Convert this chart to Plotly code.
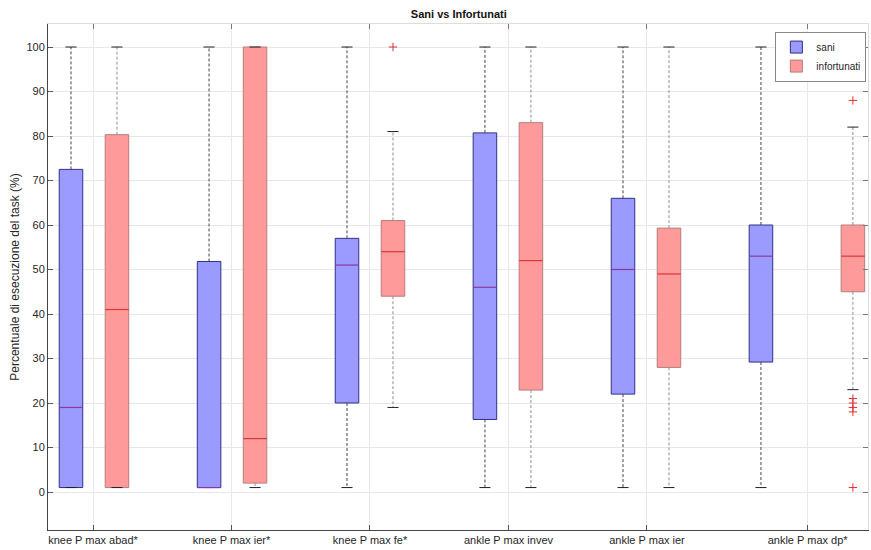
import plotly.graph_objects as go

# Categories and tick positions (group 6 sits slightly wider apart)
categories = ["knee P max abad*", "knee P max ier*", "knee P max fe*",
              "ankle P max invev", "ankle P max ier", "ankle P max dp*"]
tick_pos = [1.0, 2.0, 3.0, 4.0, 5.0, 6.16]
sani_pos = [0.841, 1.838, 2.834, 3.830, 4.827, 5.823]
inf_pos = [1.173, 2.170, 3.166, 4.162, 5.159, 6.487]

# Box statistics: sani
sani_min = [1, 1, 1, 1, 1, 1]
sani_q1 = [1, 1, 20, 16.3, 22, 29.2]
sani_med = [19, 1, 51, 46, 50, 53]
sani_q3 = [72.5, 51.8, 57, 80.7, 66, 60]
sani_max = [100, 100, 100, 100, 100, 100]

# Box statistics: infortunati
inf_min = [1, 1, 19, 1, 1, 23]
inf_q1 = [1, 2, 44, 22.9, 28, 45]
inf_med = [41, 12, 54, 52, 49, 53]
inf_q3 = [80.3, 100, 61, 83, 59.3, 60]
inf_max = [100, 100, 81, 100, 100, 82]
inf_out_group = [3, 6, 6, 6, 6, 6, 6]
inf_out_y = [100, 88, 21, 20, 19, 18, 1]

BOX_W = 0.17
CAP_HALF = 0.04


def segments(xs0, xs1, ys0, ys1):
    xx, yy = [], []
    for a, b, c, d in zip(xs0, xs1, ys0, ys1):
        xx += [a, b, None]
        yy += [c, d, None]
    return xx, yy


def add_series(fig, name, pos, mn, q1, med, q3, mx, fill, edge, med_col, wcol):
    # box body
    fig.add_trace(go.Bar(
        x=pos, base=q1, y=[b - a for a, b in zip(q1, q3)], width=BOX_W,
        marker=dict(color=fill, line=dict(color=edge, width=1)),
        name=name, showlegend=True))
    # whiskers (dashed)
    wx, wy = segments(pos + pos, pos + pos, q3 + q1, mx + mn)
    fig.add_trace(go.Scatter(x=wx, y=wy, mode="lines",
                             line=dict(color=wcol, width=1, dash="3px,2px"),
                             showlegend=False, hoverinfo="skip"))
    # whisker caps
    cx0 = [p - CAP_HALF for p in pos] * 2
    cx1 = [p + CAP_HALF for p in pos] * 2
    cx, cy = segments(cx0, cx1, mx + mn, mx + mn)
    fig.add_trace(go.Scatter(x=cx, y=cy, mode="lines",
                             line=dict(color="#222222", width=1),
                             showlegend=False, hoverinfo="skip"))
    # medians
    mxs, mys = segments([p - BOX_W / 2 for p in pos], [p + BOX_W / 2 for p in pos], med, med)
    fig.add_trace(go.Scatter(x=mxs, y=mys, mode="lines",
                             line=dict(color=med_col, width=1.2),
                             showlegend=False, hoverinfo="skip"))


fig = go.Figure()
add_series(fig, "sani", sani_pos, sani_min, sani_q1, sani_med, sani_q3, sani_max,
           "#9a9aff", "#30308a", "#8a3a9a", "#444444")
add_series(fig, "infortunati", inf_pos, inf_min, inf_q1, inf_med, inf_q3, inf_max,
           "#ff9a9a", "#b87c7c", "#d83838", "#8f8f8f")

# outliers
fig.add_trace(go.Scatter(
    x=[inf_pos[g - 1] for g in inf_out_group], y=inf_out_y, mode="markers",
    marker=dict(symbol="cross-thin", size=6, line=dict(color="#e03030", width=1)),
    showlegend=False, hoverinfo="skip"))

# invisible trace that carries the top/right frame axes
fig.add_trace(go.Scatter(x=[tick_pos[0]], y=[0], xaxis="x2", yaxis="y2",
                         mode="markers", marker=dict(opacity=0),
                         showlegend=False, hoverinfo="skip"))

font = "Liberation Sans, Arial, sans-serif"
xr = [0.675, 6.596]
yr = [-8.54, 105.17]
yt = list(range(0, 101, 10))

fig.update_layout(
    width=871, height=550,
    margin=dict(l=48, r=3, t=24, b=20),
    paper_bgcolor="white", plot_bgcolor="white",
    barmode="overlay",
    font=dict(family=font, size=11, color="#262626"),
    title=dict(text="<b>Sani vs Infortunati</b>", x=0.5268, xanchor="center",
               y=0.975, yanchor="middle", font=dict(size=11, color="#111111")),
    xaxis=dict(range=xr, tickvals=tick_pos, ticktext=categories,
               showgrid=True, gridcolor="#e8e8e8", gridwidth=1,
               showline=True, linecolor="#444444", linewidth=1,
               ticks="inside", ticklen=5, tickcolor="#555555",
               zeroline=False, tickfont=dict(size=11)),
    yaxis=dict(range=yr, tickvals=yt,
               showgrid=True, gridcolor="#e8e8e8", gridwidth=1,
               showline=True, linecolor="#444444", linewidth=1,
               ticks="inside", ticklen=5, tickcolor="#555555",
               zeroline=False, tickfont=dict(size=11),
               title=dict(text="Percentuale di esecuzione del task (%)",
                          font=dict(size=12), standoff=4)),
    xaxis2=dict(range=xr, overlaying="x", side="top", anchor="y2",
                tickvals=tick_pos, showticklabels=False, showgrid=False,
                showline=True, linecolor="#dddddd", ticks="inside",
                ticklen=5, tickcolor="#777777", zeroline=False),
    yaxis2=dict(range=yr, overlaying="y", side="right", anchor="x2",
                tickvals=yt, showticklabels=False, showgrid=False,
                showline=True, linecolor="#dddddd", ticks="inside",
                ticklen=5, tickcolor="#777777", zeroline=False),
    legend=dict(x=0.998, y=0.985, xanchor="right", yanchor="top",
                bgcolor="white", bordercolor="#888888", borderwidth=1,
                font=dict(size=10), tracegroupgap=0, itemwidth=30,
                itemclick=False),
)

fig.write_html("out.html")
